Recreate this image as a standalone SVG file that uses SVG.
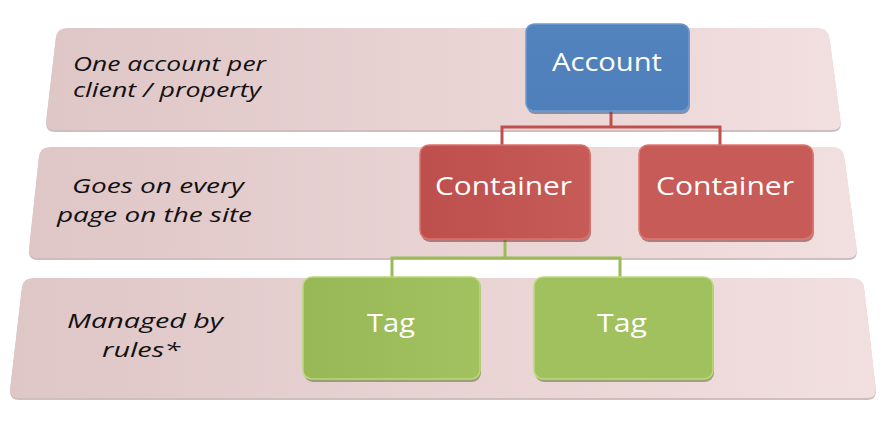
<svg xmlns="http://www.w3.org/2000/svg" width="889" height="427" viewBox="0 0 889 427">
  <defs>
    <linearGradient id="bandGrad" x1="0" y1="0" x2="1" y2="0">
      <stop offset="0" stop-color="#dfc6c7"/>
      <stop offset="1" stop-color="#f2dfdf"/>
    </linearGradient>
    <linearGradient id="blueGrad" x1="0" y1="0" x2="0" y2="1">
      <stop offset="0" stop-color="#5283bd"/>
      <stop offset="1" stop-color="#4e7fba"/>
    </linearGradient>
    <linearGradient id="redGrad" x1="0" y1="0" x2="1" y2="0">
      <stop offset="0" stop-color="#bd4f4c"/>
      <stop offset="1" stop-color="#c65b57"/>
    </linearGradient>
    <linearGradient id="greenGrad" x1="0" y1="0" x2="1" y2="0">
      <stop offset="0" stop-color="#98b857"/>
      <stop offset="1" stop-color="#a2c15f"/>
    </linearGradient>
  </defs>
  <style>
    .band { fill: url(#bandGrad); }
    .bandShadow { fill: #b9a3a4; opacity: 0.7; }
    .label { font-family: "Open Sans", "Liberation Sans", sans-serif; font-style: italic; font-size: 20px; fill: #111111; }
    .boxText { font-family: "Open Sans", "Liberation Sans", sans-serif; font-size: 25px; fill: #ffffff; text-anchor: middle; }
    .shadow { opacity: 0.55; }
    .conn { fill: none; stroke-width: 3; stroke-linejoin: miter; }
    .redConn { stroke: #c0504d; }
    .greenConn { stroke: #9bbb59; }
  </style>

  <!-- Bands -->
  <g id="band1">
    <path class="bandShadow" d="M67,30 L818,30 Q828,30 829.5,40 L840.5,122 Q842,132 832,132 L55,132 Q45,132 46.2,122 L55.8,40 Q57,30 67,30 Z"/>
    <path class="band" d="M67,28 L818,28 Q828,28 829.5,38 L840.5,120 Q842,130 832,130 L55,130 Q45,130 46.2,120 L55.8,38 Q57,28 67,28 Z"/>
    <text class="label" x="73" y="71" textLength="193" lengthAdjust="spacingAndGlyphs">One account per</text>
    <text class="label" x="73" y="97" textLength="188" lengthAdjust="spacingAndGlyphs">client / property</text>
  </g>
  <g id="band2">
    <path class="bandShadow" d="M50,149 L833,149 Q843,149 844.4,159 L856.6,250 Q858,260 848,260 L38,260 Q28,260 29.1,250 L38.9,159 Q40,149 50,149 Z"/>
    <path class="band" d="M50,147 L833,147 Q843,147 844.4,157 L856.6,248 Q858,258 848,258 L38,258 Q28,258 29.1,248 L38.9,157 Q40,147 50,147 Z"/>
    <text class="label" x="72" y="193" textLength="172" lengthAdjust="spacingAndGlyphs">Goes on every</text>
    <text class="label" x="57" y="222" textLength="195" lengthAdjust="spacingAndGlyphs">page on the site</text>
  </g>
  <g id="band3">
    <path class="bandShadow" d="M33,280 L853,280 Q863,280 864.2,290 L875.8,390 Q877,400 867,400 L19,400 Q9,400 10.2,390 L21.8,290 Q23,280 33,280 Z"/>
    <path class="band" d="M33,278 L853,278 Q863,278 864.2,288 L875.8,388 Q877,398 867,398 L19,398 Q9,398 10.2,388 L21.8,288 Q23,278 33,278 Z"/>
    <text class="label" x="67" y="328" textLength="156" lengthAdjust="spacingAndGlyphs">Managed by</text>
    <text class="label" x="102" y="357" textLength="78" lengthAdjust="spacingAndGlyphs">rules*</text>
  </g>

  <!-- Connectors -->
  <g id="connectors">
    <path class="conn redConn" d="M611,111 L611,127 M502,145 L502,127 L720,127 L720,145"/>
    <path class="conn greenConn" d="M505,239 L505,258 M392,277 L392,258 L620,258 L620,277"/>
  </g>

  <!-- Nodes -->
  <g id="account">
    <rect class="shadow" x="527" y="26" width="163" height="88" rx="8" fill="#2f5584"/>
    <rect x="526" y="24" width="163" height="87" rx="8" fill="url(#blueGrad)" stroke="#6d9ad0" stroke-width="1.5"/>
    <text class="boxText" x="607" y="71" textLength="110" lengthAdjust="spacingAndGlyphs">Account</text>
  </g>
  <g id="container1">
    <rect class="shadow" x="421" y="147" width="170" height="95" rx="9" fill="#7e2f2d"/>
    <rect x="420" y="145" width="170" height="94" rx="9" fill="url(#redGrad)" stroke="#dc716c" stroke-width="1.5"/>
    <text class="boxText" x="503.5" y="195" textLength="137" lengthAdjust="spacingAndGlyphs">Container</text>
  </g>
  <g id="container2">
    <rect class="shadow" x="640" y="147" width="174" height="95" rx="9" fill="#7e2f2d"/>
    <rect x="639" y="145" width="174" height="94" rx="9" fill="#c75b58" stroke="#de7772" stroke-width="1.5"/>
    <text class="boxText" x="725" y="195" textLength="138" lengthAdjust="spacingAndGlyphs">Container</text>
  </g>
  <g id="tag1">
    <rect class="shadow" x="304" y="279" width="177" height="103" rx="9" fill="#5d7430"/>
    <rect x="303" y="277" width="177" height="102" rx="9" fill="url(#greenGrad)" stroke="#b9d97a" stroke-width="1.5"/>
    <text class="boxText" x="391" y="332" font-size="28" textLength="48" lengthAdjust="spacingAndGlyphs">Tag</text>
  </g>
  <g id="tag2">
    <rect class="shadow" x="535" y="279" width="179" height="103" rx="9" fill="#5d7430"/>
    <rect x="534" y="277" width="179" height="102" rx="9" fill="#a1c05e" stroke="#bcdb7d" stroke-width="1.5"/>
    <text class="boxText" x="622" y="332" font-size="28" textLength="50" lengthAdjust="spacingAndGlyphs">Tag</text>
  </g>
</svg>
